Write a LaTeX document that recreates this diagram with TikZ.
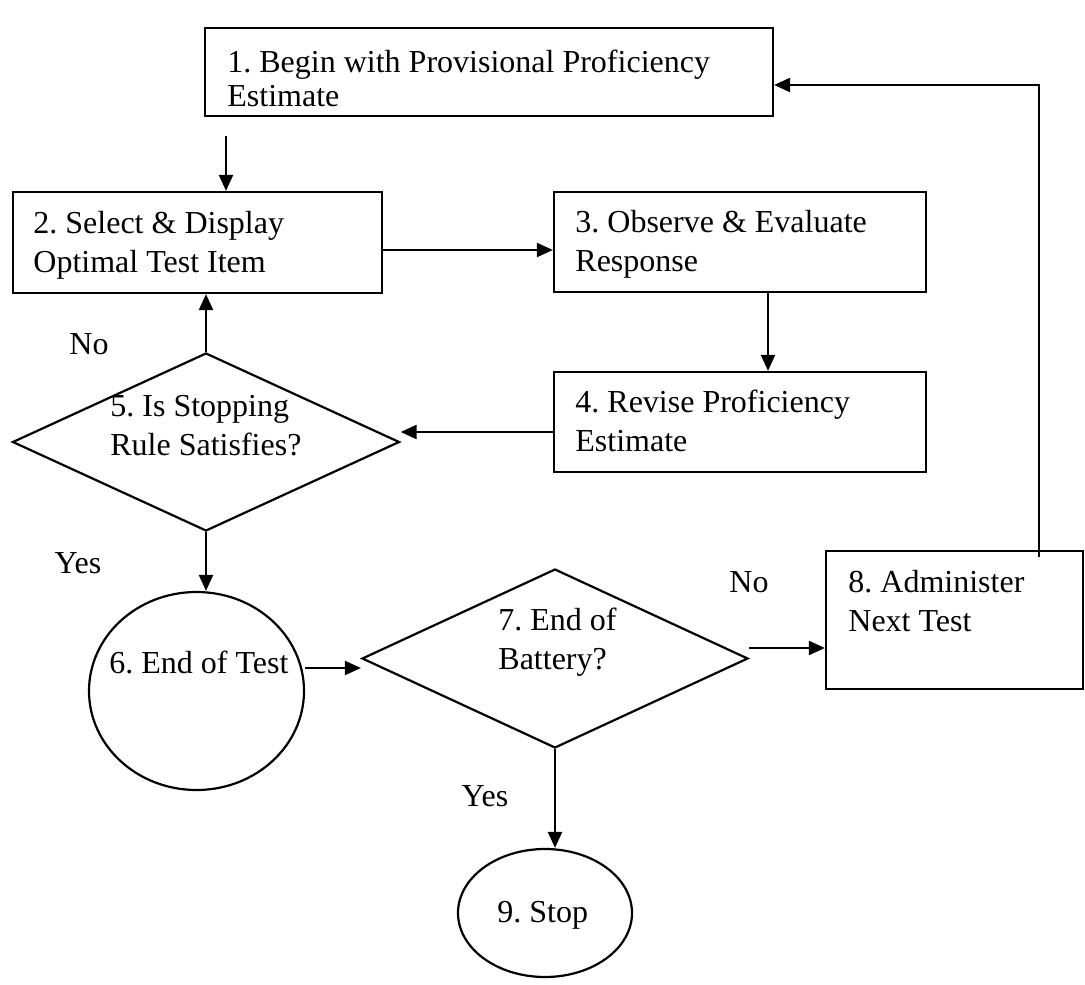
\documentclass[tikz,border=0pt]{standalone}
\usepackage{fontspec}
\setmainfont{Liberation Serif}
\usetikzlibrary{shapes.geometric,arrows.meta}
\newcommand\fl{\rule{0pt}{11.5pt}}
\frenchspacing
\begin{document}
\begin{tikzpicture}[x=0.5pt,y=-0.5pt,
  boxn/.style={draw, line width=1.1pt, rectangle, inner sep=0pt},
  dia/.style={draw, line width=1.1pt, diamond, inner sep=0pt, aspect=2.17},
  ell/.style={draw, line width=1.1pt, ellipse, inner sep=0pt},
  txt/.style={font=\fontsize{16}{19.5}\selectfont, align=left, inner sep=0pt, anchor=north west},
  lbl/.style={font=\fontsize{16}{19.5}\selectfont, inner sep=0pt, anchor=base},
  arr/.style={line width=1.1pt, -{Triangle[length=8pt,width=7pt]}},
]
\useasboundingbox (0,0) rectangle (1085,984);

% shapes
\node[boxn, minimum width=284pt, minimum height=44pt] (b1) at (489,72) {};
\node[boxn, minimum width=184.5pt, minimum height=50.5pt] (b2) at (197.5,242.5) {};
\node[boxn, minimum width=186pt, minimum height=50pt] (b3) at (740,242) {};
\node[boxn, minimum width=186pt, minimum height=50pt] (b4) at (740,422) {};
\node[dia, minimum width=193.5pt, minimum height=89pt] (d5) at (206,442) {};
\node[ell, minimum width=107.5pt, minimum height=99pt] (c6) at (196.5,691) {};
\node[dia, minimum width=193pt, minimum height=89.5pt] (d7) at (555,658.5) {};
\node[boxn, minimum width=128.5pt, minimum height=69pt] (b8) at (954.5,620) {};
\node[ell, minimum width=87pt, minimum height=64pt] (c9) at (545,913) {};

% texts
\node[txt, font=\fontsize{16}{17}\selectfont] (t1) at (227,49) {\fl 1. Begin with Provisional Proficiency\\Estimate};
\node[txt] (t2) at (33,210) {\fl 2. Select \& Display\\Optimal Test Item};
\node[txt] (t3) at (575,209) {\fl 3. Observe \& Evaluate\\Response};
\node[txt] (t4) at (575,389) {\fl 4. Revise Proficiency\\Estimate};
\node[txt] (t5) at (110,393) {\fl 5. Is Stopping\\Rule Satisfies?};
\node[txt] (t6) at (109,650) {\fl 6. End of Test};
\node[txt] (t7) at (498,607) {\fl 7. End of\\Battery?};
\node[txt] (t8) at (848,569) {\fl 8. Administer\\Next Test};
\node[txt] (t9) at (497,899) {\fl 9. Stop};

% labels
\node[lbl] (no1) at (89,354) {No};
\node[lbl] (yes1) at (78,573) {Yes};
\node[lbl] (no2) at (749,592) {No};
\node[lbl] (yes2) at (485,806) {Yes};

% connectors
\coordinate (a0) at (226,136);
\coordinate (k0) at (1039,557);
\coordinate (k1) at (1039,85);
\draw[arr] (a0) -- (a0 |- b2.north);
\draw[arr] (b2.east |- 0,250) -- (b3.west |- 0,250);
\draw[arr] (b3.south -| 768,0) -- (b4.north -| 768,0);
\draw[arr] (b4.west |- 0,432) -- (d5.east |- 0,432);
\draw[arr] (d5.north) -- (d5.north |- b2.south);
\draw[arr] (d5.south) -- (d5.south |- c6.north);
\draw[arr] (c6.east |- 0,668) -- (d7.west |- 0,668);
\draw[arr] (d7.east |- 0,648) -- (b8.west |- 0,648);
\draw[arr] (d7.south) -- (d7.south |- c9.north);
\draw[arr] (k0) -- (k1) -- (b1.east |- k1);
\end{tikzpicture}
\end{document}
